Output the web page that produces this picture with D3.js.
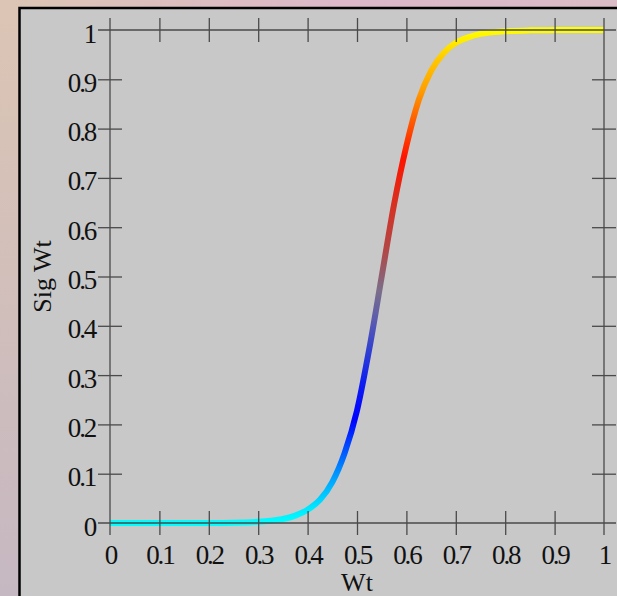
<!DOCTYPE html>
<html>
<head>
<meta charset="utf-8">
<script src="https://cdn.jsdelivr.net/npm/d3@7"></script>
<style>
  html, body { margin: 0; padding: 0; background: #d8c0c0; }
  svg { display: block; }
  .lbl { font-family: "Liberation Serif", "Times New Roman", serif; font-size: 27px; fill: #111; letter-spacing: -2.2px; }
  .ttl { font-family: "Liberation Serif", "Times New Roman", serif; font-size: 26px; fill: #111; }
</style>
</head>
<body>
<svg id="chart" width="617" height="596"></svg>
<script>
// curve samples
var wt    = [0, 0.05, 0.1, 0.15, 0.2, 0.25, 0.3, 0.325, 0.35, 0.375, 0.4, 0.425, 0.45, 0.475, 0.5,
             0.525, 0.55, 0.575, 0.6, 0.625, 0.65, 0.675, 0.7, 0.725, 0.75, 0.8, 0.85, 0.9, 0.95, 1];
var sigWt = [0, 0, 0, 0.0001, 0.0002, 0.0007, 0.0025, 0.0045, 0.008, 0.015, 0.027, 0.047, 0.083, 0.142, 0.228,
             0.354, 0.5, 0.646, 0.765, 0.858, 0.917, 0.953, 0.974, 0.985, 0.992, 0.9975, 0.9993, 0.9998, 1, 1];
var xTicks = [0, 0.1, 0.2, 0.3, 0.4, 0.5, 0.6, 0.7, 0.8, 0.9, 1];
var yTicks = [0, 0.1, 0.2, 0.3, 0.4, 0.5, 0.6, 0.7, 0.8, 0.9, 1];
var xTickLabels = ["0", "0.1", "0.2", "0.3", "0.4", "0.5", "0.6", "0.7", "0.8", "0.9", "1"];
var yTickLabels = ["0", "0.1", "0.2", "0.3", "0.4", "0.5", "0.6", "0.7", "0.8", "0.9", "1"];
// colour along the curve, by Sig Wt value
var colorAt  = [0, 0.03, 0.1, 0.15, 0.21, 0.29, 0.35, 0.41, 0.47, 0.55, 0.65, 0.74, 0.82, 0.88, 0.94, 0.98, 1];
var colorHex = ["#00ffff", "#00e8ff", "#0095ff", "#0050ff", "#0000ff", "#1020f0", "#3040d0", "#5a5ab0",
                "#7a6e8a", "#b04848", "#d83020", "#ff1400", "#ff6000", "#ffa000", "#ffc800", "#ffee00", "#ffff00"];

var svg = d3.select("#chart");
var defs = svg.append("defs");

var x = d3.scaleLinear().domain([0, 1]).range([110, 604]);
var y = d3.scaleLinear().domain([0, 1]).range([523, 30]);

// page background strips
var gTop = defs.append("linearGradient").attr("id", "bgTop").attr("x1", 0).attr("x2", 1).attr("y1", 0).attr("y2", 0);
gTop.append("stop").attr("offset", 0).attr("stop-color", "#dcc5b4");
gTop.append("stop").attr("offset", 0.55).attr("stop-color", "#dcb8c8");
gTop.append("stop").attr("offset", 1).attr("stop-color", "#dabcc6");
var gLeft = defs.append("linearGradient").attr("id", "bgLeft").attr("x1", 0).attr("x2", 0).attr("y1", 0).attr("y2", 1);
gLeft.append("stop").attr("offset", 0).attr("stop-color", "#dcc5b4");
gLeft.append("stop").attr("offset", 1).attr("stop-color", "#c6b8c2");

svg.append("rect").attr("x", 0).attr("y", 0).attr("width", 617).attr("height", 10).attr("fill", "url(#bgTop)");
svg.append("rect").attr("x", 0).attr("y", 0).attr("width", 21).attr("height", 596).attr("fill", "url(#bgLeft)");

// plot frame
svg.append("rect")
    .attr("x", 19.5).attr("y", 8)
    .attr("width", 700).attr("height", 700)
    .attr("fill", "#c8c8c8")
    .attr("stroke", "#000")
    .attr("stroke-width", 2.5);

// curve with colour gradient along y
var grad = defs.append("linearGradient")
    .attr("id", "curveGrad")
    .attr("gradientUnits", "userSpaceOnUse")
    .attr("x1", 0).attr("x2", 0)
    .attr("y1", y(0)).attr("y2", y(1));
colorAt.forEach(function(o, i) {
    grad.append("stop").attr("offset", o).attr("stop-color", colorHex[i]);
});

var line = d3.line()
    .x(function(d, i) { return x(wt[i]); })
    .y(function(d) { return y(d); })
    .curve(d3.curveMonotoneX);

svg.append("path")
    .datum(sigWt)
    .attr("d", line)
    .attr("fill", "none")
    .attr("stroke", "url(#curveGrad)")
    .attr("stroke-width", 6);

// axes: lines at x=0, x=1, y=0, y=1 with ticks crossing them
var axisCol = "#4a4a4a";
var ext = 12;

function crossTicks(g, vertical) {
    g.select(".domain").remove();
    g.selectAll(".tick line")
        .attr("stroke", axisCol)
        .attr("stroke-width", 1.3)
        .attr(vertical ? "x1" : "y1", -ext)
        .attr(vertical ? "x2" : "y2", ext);
}

// bottom (y = 0)
var gB = svg.append("g").attr("transform", "translate(0," + y(0) + ")")
    .call(d3.axisBottom(x).tickValues(xTicks).tickFormat(function(d, i) { return xTickLabels[i]; }));
crossTicks(gB, false);
gB.selectAll(".tick").filter(function(d) { return d === 0 || d === 1; }).select("line").remove();
gB.selectAll(".tick text").attr("class", "lbl").attr("y", 0).attr("dy", 41).attr("fill", null)
    .attr("font-size", null).attr("font-family", null);

// top (y = 1)
var gT = svg.append("g").attr("transform", "translate(0," + y(1) + ")")
    .call(d3.axisTop(x).tickValues(xTicks).tickFormat(""));
crossTicks(gT, false);
gT.selectAll(".tick").filter(function(d) { return d === 0 || d === 1; }).remove();

// left (x = 0)
var gL = svg.append("g").attr("transform", "translate(" + x(0) + ",0)")
    .call(d3.axisLeft(y).tickValues(yTicks).tickFormat(function(d, i) { return yTickLabels[i]; }));
crossTicks(gL, true);
gL.selectAll(".tick").filter(function(d) { return d === 0 || d === 1; }).select("line").remove();
gL.selectAll(".tick text").attr("class", "lbl").attr("x", -15).attr("dy", 12).attr("fill", null)
    .attr("font-size", null).attr("font-family", null);

// right (x = 1)
var gR = svg.append("g").attr("transform", "translate(" + x(1) + ",0)")
    .call(d3.axisRight(y).tickValues(yTicks).tickFormat(""));
crossTicks(gR, true);
gR.selectAll(".tick").filter(function(d) { return d === 0 || d === 1; }).remove();

// the four frame lines, extended past the data range
var x0 = x(0) - ext, x1 = x(1) + ext, y0 = y(0) + ext, y1 = y(1) - ext;
[[x0, y(0), x1, y(0)], [x0, y(1), x1, y(1)], [x(0), y1, x(0), y0], [x(1), y1, x(1), y0]].forEach(function(s) {
    svg.append("line")
        .attr("x1", s[0]).attr("y1", s[1]).attr("x2", s[2]).attr("y2", s[3])
        .attr("stroke", axisCol).attr("stroke-width", 1.3);
});

// axis titles
svg.append("text").attr("class", "ttl")
    .attr("x", (x(0) + x(1)) / 2).attr("y", 591)
    .attr("text-anchor", "middle")
    .text("Wt");

svg.append("text").attr("class", "ttl")
    .attr("transform", "translate(51," + y(0.5) + ") rotate(-90)")
    .attr("text-anchor", "middle")
    .text("Sig Wt");
</script>
</body>
</html>
